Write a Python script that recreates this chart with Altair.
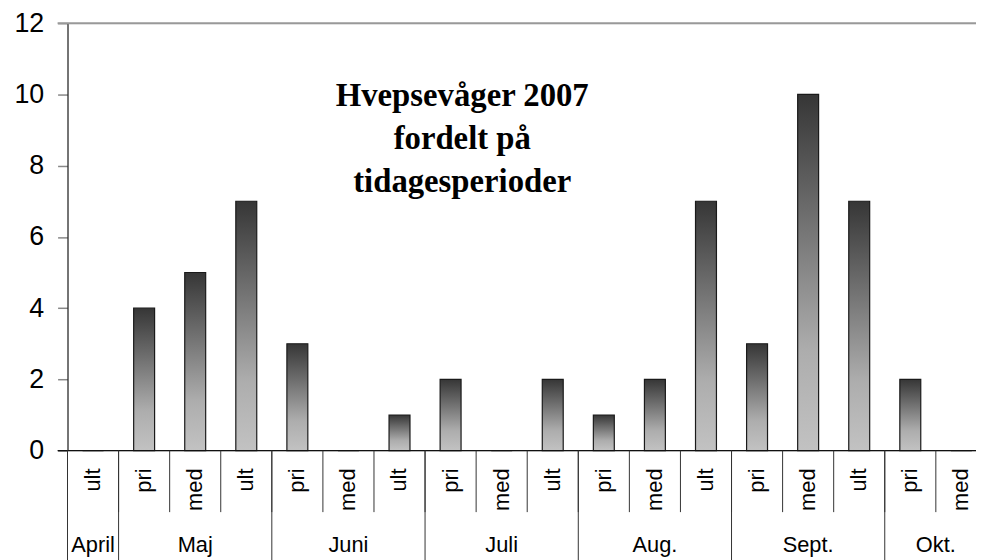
import altair as alt
import pandas as pd

# ---- data ----
months = ["April", "Maj", "Juni", "Juli", "Aug.", "Sept.", "Okt."]
month_periods = [["ult"], ["pri", "med", "ult"], ["pri", "med", "ult"],
                 ["pri", "med", "ult"], ["pri", "med", "ult"],
                 ["pri", "med", "ult"], ["pri", "med"]]
values = [0, 4, 5, 7, 3, 0, 1, 2, 0, 2, 1, 2, 7, 3, 10, 7, 2, 0]
y_ticks = [0, 2, 4, 6, 8, 10, 12]
title_text = "Hvepsevåger 2007\nfordelt på\ntidagesperioder"

rows = []
for m, plist in zip(months, month_periods):
    for p in plist:
        rows.append({"month": m, "period": p, "key": f"{m}-{p}"})
for r, v in zip(rows, values):
    r["value"] = v
df = pd.DataFrame(rows)
keys = list(df["key"])

month_first = pd.DataFrame({"key": [f"{m}-{pl[0]}" for m, pl in zip(months, month_periods)]})
mid_rows, edge_rows = [], []
for m, pl in zip(months, month_periods):
    if len(pl) % 2 == 1:
        mid_rows.append({"month": m, "key": f"{m}-{pl[len(pl)//2]}"})
    else:
        edge_rows.append({"month": m, "key": f"{m}-{pl[len(pl)//2]}"})
month_mid = pd.DataFrame(mid_rows)
month_edge = pd.DataFrame(edge_rows)

W = 916
H = 431
STEP_RANGE = 927

xscale = alt.Scale(domain=keys, range=[0, STEP_RANGE], paddingInner=0, paddingOuter=0)
yscale = alt.Scale(domain=[0, 12], nice=False)

grad = alt.Gradient(
    gradient="linear",
    stops=[alt.GradientStop(color="#363636", offset=0),
           alt.GradientStop(color="#adadad", offset=0.72),
           alt.GradientStop(color="#c2c2c2", offset=1)],
    x1=0, x2=0, y1=0, y2=1,
)

bars = alt.Chart(df).mark_bar(
    width=alt.RelativeBandSize(0.41), color=grad, stroke="#1a1a1a", strokeWidth=1.2
).encode(
    x=alt.X("key:N", scale=xscale, axis=None),
    y=alt.Y("value:Q", scale=yscale, title=None,
            axis=alt.Axis(values=y_ticks, labelFont="Liberation Sans", labelFontSize=27,
                          labelColor="black", tickColor="#888888", tickSize=10, tickWidth=1.5,
                          domainColor="#222222", domainWidth=1.2, labelPadding=14, grid=False)),
)

top_line = alt.Chart(pd.DataFrame({"v": [12]})).mark_rule(color="#999999", strokeWidth=2).encode(
    y=alt.Y("v:Q", scale=yscale), x=alt.value(-10), x2=alt.value(STEP_RANGE)
)
base_line = alt.Chart(pd.DataFrame({"v": [0]})).mark_rule(color="#111111", strokeWidth=1.2).encode(
    y=alt.Y("v:Q", scale=yscale), x=alt.value(-10), x2=alt.value(STEP_RANGE)
)

cat_sep = alt.Chart(df).mark_rule(color="#333333", strokeWidth=1).encode(
    x=alt.X("key:N", scale=xscale, bandPosition=0, axis=None),
    y=alt.value(H), y2=alt.value(H + 62),
)
month_sep = alt.Chart(month_first).mark_rule(color="#333333", strokeWidth=1).encode(
    x=alt.X("key:N", scale=xscale, bandPosition=0, axis=None),
    y=alt.value(H), y2=alt.value(H + 140),
)

cat_labels = alt.Chart(df).mark_text(
    angle=270, align="right", baseline="middle", font="Liberation Sans", fontSize=22, color="black"
).encode(
    x=alt.X("key:N", scale=xscale, axis=None),
    y=alt.value(H + 18),
    text="period:N",
)

mlab_mid = alt.Chart(month_mid).mark_text(
    align="center", baseline="alphabetic", font="Liberation Sans", fontSize=22, color="black"
).encode(
    x=alt.X("key:N", scale=xscale, axis=None),
    y=alt.value(H + 102),
    text="month:N",
)
mlab_edge = alt.Chart(month_edge).mark_text(
    align="center", baseline="alphabetic", font="Liberation Sans", fontSize=22, color="black"
).encode(
    x=alt.X("key:N", scale=xscale, bandPosition=0, axis=None),
    y=alt.value(H + 102),
    text="month:N",
)

title = alt.Chart(pd.DataFrame({"t": [title_text]})).mark_text(
    align="center", baseline="alphabetic", font="Liberation Serif", fontWeight="bold",
    fontSize=33, lineBreak="\n", lineHeight=43, color="black"
).encode(
    x=alt.value(398), y=alt.value(84), text="t:N"
)

chart = alt.layer(
    top_line, bars, base_line, cat_sep, month_sep, cat_labels, mlab_mid, mlab_edge, title
).properties(
    width=W, height=H,
    autosize=alt.AutoSizeParams(type="none"),
    padding={"left": 60, "top": 13, "right": 0, "bottom": 108},
).configure_view(stroke=None).configure(background="white")

chart.save("out.html", embed_options={"renderer": "svg", "actions": False})
